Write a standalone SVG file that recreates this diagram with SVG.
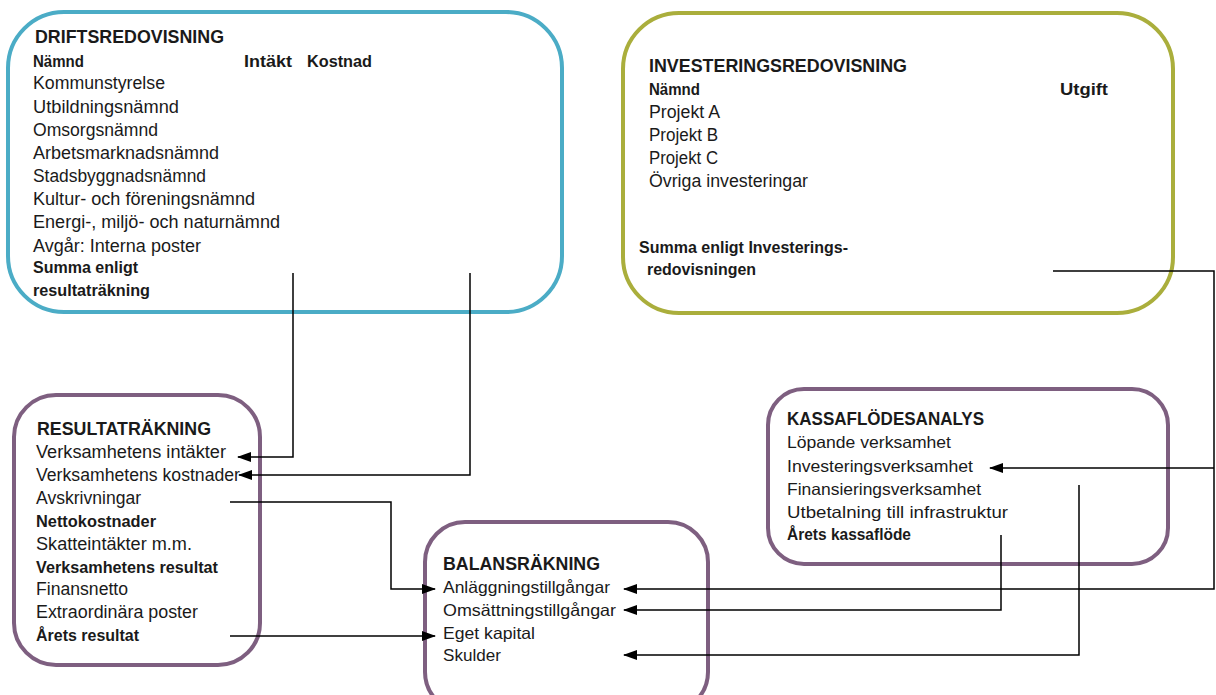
<svg xmlns="http://www.w3.org/2000/svg" width="1216" height="695" viewBox="0 0 1216 695">
<style>
text{font-family:"Liberation Sans",Arial,sans-serif;fill:#1a1a1a;font-size:17.5px}
.b{font-weight:bold;font-size:17px}
.h{font-weight:bold;font-size:18px}
.n{font-size:16.5px}
.nh{font-weight:bold;font-size:17.5px}
.box{fill:#fff;stroke-width:4}
.blue{stroke:#4BACC6}
.olive{stroke:#AAAE3C}
.purple{stroke:#7E5F80}
.c{fill:none;stroke:#000;stroke-width:1.5}
</style>
<defs>
<marker id="ah" markerUnits="userSpaceOnUse" markerWidth="14" markerHeight="11" refX="13" refY="5" orient="auto" viewBox="0 0 14 10">
<path d="M0,0 L14,5 L0,10 z" fill="#000"/>
</marker>
</defs>
<rect width="1216" height="695" fill="#fff"/>
<g id="driftsredovisning">
<rect class="box blue" x="8" y="12" width="554" height="300" rx="56"/>
<text class="h" x="35" y="43" textLength="189" lengthAdjust="spacingAndGlyphs">DRIFTSREDOVISNING</text>
<text class="b" x="33" y="67" textLength="51" lengthAdjust="spacingAndGlyphs">Nämnd</text>
<text class="b" x="244" y="67" textLength="48" lengthAdjust="spacingAndGlyphs">Intäkt</text>
<text class="b" x="307" y="67" textLength="65" lengthAdjust="spacingAndGlyphs">Kostnad</text>
<text x="33" y="89" textLength="132" lengthAdjust="spacingAndGlyphs">Kommunstyrelse</text>
<text x="33" y="113" textLength="146" lengthAdjust="spacingAndGlyphs">Utbildningsnämnd</text>
<text x="33" y="136" textLength="125" lengthAdjust="spacingAndGlyphs">Omsorgsnämnd</text>
<text x="33" y="159" textLength="186" lengthAdjust="spacingAndGlyphs">Arbetsmarknadsnämnd</text>
<text x="33" y="182" textLength="173" lengthAdjust="spacingAndGlyphs">Stadsbyggnadsnämnd</text>
<text x="33" y="205" textLength="222" lengthAdjust="spacingAndGlyphs">Kultur- och föreningsnämnd</text>
<text x="33" y="228" textLength="247" lengthAdjust="spacingAndGlyphs">Energi-, miljö- och naturnämnd</text>
<text x="33" y="252" textLength="168" lengthAdjust="spacingAndGlyphs">Avgår: Interna poster</text>
<text class="b" x="33" y="273" textLength="105" lengthAdjust="spacingAndGlyphs">Summa enligt</text>
<text class="b" x="33" y="296" textLength="117" lengthAdjust="spacingAndGlyphs">resultaträkning</text>
</g>
<g id="investeringsredovisning">
<rect class="box olive" x="623" y="13" width="550" height="300" rx="56"/>
<text class="h" x="649" y="72" textLength="258" lengthAdjust="spacingAndGlyphs">INVESTERINGSREDOVISNING</text>
<text class="b" x="649" y="95" textLength="51" lengthAdjust="spacingAndGlyphs">Nämnd</text>
<text class="b" x="1060" y="95" textLength="48" lengthAdjust="spacingAndGlyphs">Utgift</text>
<text x="649" y="118" textLength="71" lengthAdjust="spacingAndGlyphs">Projekt A</text>
<text x="649" y="141" textLength="69" lengthAdjust="spacingAndGlyphs">Projekt B</text>
<text x="649" y="164" textLength="69" lengthAdjust="spacingAndGlyphs">Projekt C</text>
<text x="649" y="187" textLength="159" lengthAdjust="spacingAndGlyphs">Övriga investeringar</text>
<text class="b" x="639" y="253" textLength="209" lengthAdjust="spacingAndGlyphs">Summa enligt Investerings-</text>
<text class="b" x="647" y="275" textLength="109" lengthAdjust="spacingAndGlyphs">redovisningen</text>
</g>
<g id="resultatrakning">
<rect class="box purple" x="14" y="395" width="246" height="270" rx="42"/>
<text class="h" x="37" y="435" textLength="174" lengthAdjust="spacingAndGlyphs">RESULTATRÄKNING</text>
<text x="36" y="458" textLength="190" lengthAdjust="spacingAndGlyphs">Verksamhetens intäkter</text>
<text x="36" y="481" textLength="204" lengthAdjust="spacingAndGlyphs">Verksamhetens kostnader</text>
<text x="36" y="504" textLength="105" lengthAdjust="spacingAndGlyphs">Avskrivningar</text>
<text class="b" x="36" y="527" textLength="120" lengthAdjust="spacingAndGlyphs">Nettokostnader</text>
<text x="36" y="550" textLength="156" lengthAdjust="spacingAndGlyphs">Skatteintäkter m.m.</text>
<text class="b" x="36" y="573" textLength="182" lengthAdjust="spacingAndGlyphs">Verksamhetens resultat</text>
<text x="36" y="595" textLength="92" lengthAdjust="spacingAndGlyphs">Finansnetto</text>
<text x="36" y="618" textLength="162" lengthAdjust="spacingAndGlyphs">Extraordinära poster</text>
<text class="b" x="36" y="641" textLength="103" lengthAdjust="spacingAndGlyphs">Årets resultat</text>
</g>
<g id="balansrakning">
<rect class="box purple" x="425" y="522" width="283" height="190" rx="40"/>
<text class="nh" x="443" y="570" textLength="157" lengthAdjust="spacingAndGlyphs">BALANSRÄKNING</text>
<text class="n" x="443" y="593" textLength="167" lengthAdjust="spacingAndGlyphs">Anläggningstillgångar</text>
<text class="n" x="443" y="616" textLength="173" lengthAdjust="spacingAndGlyphs">Omsättningstillgångar</text>
<text class="n" x="443" y="639" textLength="92" lengthAdjust="spacingAndGlyphs">Eget kapital</text>
<text class="n" x="443" y="661" textLength="58" lengthAdjust="spacingAndGlyphs">Skulder</text>
</g>
<g id="kassaflodesanalys">
<rect class="box purple" x="768" y="389" width="400" height="175" rx="36"/>
<text class="nh" x="787" y="425" textLength="197" lengthAdjust="spacingAndGlyphs">KASSAFLÖDESANALYS</text>
<text class="n" x="787" y="448" textLength="164" lengthAdjust="spacingAndGlyphs">Löpande verksamhet</text>
<text class="n" x="787" y="472" textLength="186" lengthAdjust="spacingAndGlyphs">Investeringsverksamhet</text>
<text class="n" x="787" y="495" textLength="194" lengthAdjust="spacingAndGlyphs">Finansieringsverksamhet</text>
<text class="n" x="787" y="518" textLength="221" lengthAdjust="spacingAndGlyphs">Utbetalning till infrastruktur</text>
<text class="n" x="787" y="540" font-weight="bold" textLength="124" lengthAdjust="spacingAndGlyphs">Årets kassaflöde</text>
</g>
<g id="connectors">
<path class="c" d="M293,273 V457 H238" marker-end="url(#ah)"/>
<path class="c" d="M470,273 V475 H239" marker-end="url(#ah)"/>
<path class="c" d="M230,502 H391 V589 H435" marker-end="url(#ah)"/>
<path class="c" d="M230,636 H435" marker-end="url(#ah)"/>
<path class="c" d="M1053,271 H1214 V589 H624" marker-end="url(#ah)"/>
<path class="c" d="M1214,468 H990" marker-end="url(#ah)"/>
<path class="c" d="M1001,535 V610 H624" marker-end="url(#ah)"/>
<path class="c" d="M1079,485 V655 H624" marker-end="url(#ah)"/>
</g>
</svg>
